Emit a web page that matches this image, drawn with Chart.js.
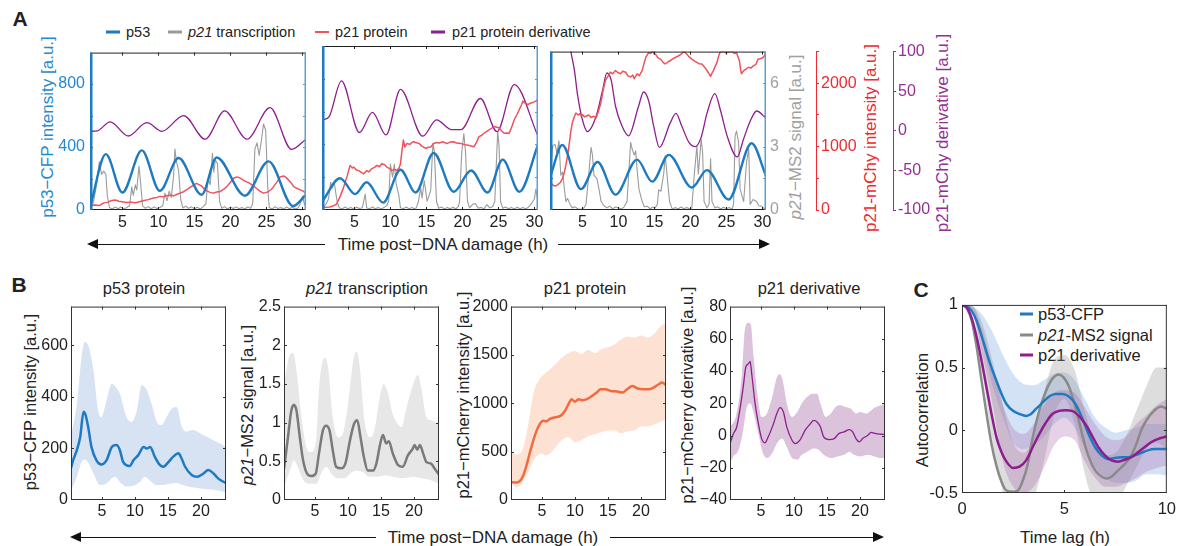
<!DOCTYPE html>
<html><head><meta charset="utf-8">
<script src="https://cdn.jsdelivr.net/npm/chart.js@4"></script>
<style>
body{margin:0;width:1178px;height:546px;background:#fff;position:relative;overflow:hidden;font-family:'Liberation Sans',Arial,Helvetica,sans-serif;color:#222;}
canvas{position:absolute;}
.t{position:absolute;white-space:nowrap;line-height:1;transform:translate(0,-50%);}
.c{position:absolute;white-space:nowrap;line-height:1;transform:translate(-50%,-50%);}
.r{position:absolute;white-space:nowrap;line-height:1;transform:translate(-50%,-50%) rotate(-90deg);}
.lg{position:absolute;height:3px;transform:translate(0,-50%);}
.hl{position:absolute;height:0;border-top:1.4px solid #111;}
.al{position:absolute;width:0;height:0;border-top:5px solid transparent;border-bottom:5px solid transparent;border-right:11px solid #111;}
.ar{position:absolute;width:0;height:0;border-top:5px solid transparent;border-bottom:5px solid transparent;border-left:11px solid #111;}
</style></head><body>
<div class="c" style="left:20px;top:18px;font-size:21px;font-weight:bold">A</div>
<div class="c" style="left:19px;top:284px;font-size:21px;font-weight:bold">B</div>
<div class="c" style="left:921px;top:289px;font-size:21px;font-weight:bold">C</div>

<div class="lg" style="left:106px;top:32px;width:14px;background:#1f7bc1"></div>
<div class="t" style="left:126px;top:32px;font-size:14.5px">p53</div>
<div class="lg" style="left:168px;top:32px;width:14px;background:#9b9b9b"></div>
<div class="t" style="left:188px;top:32px;font-size:14.5px"><i>p21</i> transcription</div>
<div class="lg" style="left:315px;top:32px;width:14px;height:2px;background:#f0525c"></div>
<div class="t" style="left:335px;top:32px;font-size:14.5px">p21 protein</div>
<div class="lg" style="left:431px;top:32px;width:14px;background:#8e1e8e"></div>
<div class="t" style="left:452px;top:32px;font-size:14.5px">p21 protein derivative</div>

<div class="r" style="left:47px;top:127px;font-size:17px;color:#2589d0">p53−CFP intensity [a.u.]</div>
<div class="r" style="left:795px;top:137px;font-size:17px;color:#a0a0a0"><i>p21</i>−MS2 signal [a.u.]</div>
<div class="r" style="left:870px;top:138px;font-size:17px;color:#ee2a30">p21-mChy intensity [a.u.]</div>
<div class="r" style="left:942px;top:133px;font-size:17px;color:#962f94">p21-mChy derivative [a.u.]</div>

<div class="al" style="left:87px;top:239px"></div>
<div class="hl" style="left:90px;top:244px;width:235px"></div>
<div class="c" style="left:443px;top:244px;font-size:17px">Time post−DNA damage (h)</div>
<div class="hl" style="left:558px;top:244px;width:203px"></div>
<div class="ar" style="left:759px;top:239px"></div>

<div class="c" style="left:144px;top:288px;font-size:16.5px">p53 protein</div>
<div class="c" style="left:367px;top:288px;font-size:16.5px"><i>p21</i> transcription</div>
<div class="c" style="left:585px;top:288px;font-size:16.5px">p21 protein</div>
<div class="c" style="left:809px;top:288px;font-size:16.5px">p21 derivative</div>
<div class="r" style="left:30px;top:402px;font-size:16.5px">p53−CFP intensity [a.u.]</div>
<div class="r" style="left:247px;top:405px;font-size:16.5px"><i>p21</i>−MS2 signal [a.u.]</div>
<div class="r" style="left:463px;top:395px;font-size:16.5px">p21−mCherry intensity [a.u.]</div>
<div class="r" style="left:687px;top:395px;font-size:16.5px">p21−mCherry derivative [a.u.]</div>

<div class="al" style="left:70px;top:532px"></div>
<div class="hl" style="left:73px;top:537px;width:303px"></div>
<div class="c" style="left:493px;top:537px;font-size:17px">Time post−DNA damage (h)</div>
<div class="hl" style="left:610px;top:537px;width:264px"></div>
<div class="ar" style="left:873px;top:532px"></div>

<div class="r" style="left:922px;top:410px;font-size:17px">Autocorrelation</div>
<div class="c" style="left:1065px;top:537px;font-size:17px">Time lag (h)</div>
<div class="lg" style="left:1020px;top:314px;width:13px;background:#1f7bc1"></div>
<div class="t" style="left:1038px;top:314px;font-size:16.5px">p53-CFP</div>
<div class="lg" style="left:1020px;top:335px;width:13px;background:#8a8a8a"></div>
<div class="t" style="left:1038px;top:335px;font-size:16.5px"><i>p21</i>-MS2 signal</div>
<div class="lg" style="left:1020px;top:355px;width:13px;background:#8e1e8e"></div>
<div class="t" style="left:1038px;top:355px;font-size:16.5px">p21 derivative</div>

<script>
// ---------------- tick values / labels ----------------
const A_X_TICKS = [5, 10, 15, 20, 25, 30];
const A_P53_TICKS = [0, 200, 400, 600, 800, 1000];
const A_P53_LABELS = [0, 400, 800];
const A_MS2_TICKS = [0, 1.5, 3, 4.5, 6, 7.5];
const A_MS2_LABELS = [0, 3, 6];
const A_MCHY_TICKS = [0, 500, 1000, 1500, 2000, 2500];
const A_MCHY_LABELS = [0, 1000, 2000];
const A_DER_TICKS = [-100, -50, 0, 50, 100];
const B_X_TICKS = [5, 10, 15, 20];
const B1_Y_TICKS = [0, 200, 400, 600];
const B2_Y_TICKS = [0, 0.5, 1, 1.5, 2, 2.5];
const B3_Y_TICKS = [0, 500, 1000, 1500, 2000];
const B4_Y_TICKS = [-40, -20, 0, 20, 40, 60, 80];
const C_X_TICKS = [0, 5, 10];
const C_Y_TICKS = [-0.5, 0, 0.5, 1];

// ---------------- panel A, cell 1 : [time h, value] ----------------
const a1P53 = [[0.6,35],[2.7,355],[5.0,111],[7.7,379],[10.2,122],[12.8,330],[16.0,97],[18.1,334],[22.0,91],[25.3,309],[28.7,25],[30.5,97]];
const a1Ms2 = [[0.6,0.05],[1.0,0.4],[1.4,1.2],[1.8,2.3],[2.1,1.7],[2.4,1.85],[2.7,1.7],[2.9,0.7],[3.2,0.12],[3.6,0.05],[4.0,0.15],[4.4,0.06],[4.8,0.14],[5.2,0.05],[5.6,0.12],[6.0,0.2],[6.3,1.1],[6.5,0.7],[6.8,1.2],[7.0,0.95],[7.3,2.1],[7.5,1.4],[7.8,0.2],[8.2,0.08],[8.6,0.16],[9.0,0.06],[9.4,0.15],[9.8,0.07],[10.2,0.12],[10.6,0.2],[10.9,0.8],[11.2,0.45],[11.5,0.9],[11.8,0.6],[12.1,1.6],[12.3,2.9],[12.5,2.3],[12.8,1.9],[13.1,0.5],[13.4,0.1],[13.8,0.18],[14.2,0.08],[14.6,0.15],[15.0,0.06],[15.4,0.13],[15.8,0.05],[16.2,0.15],[16.6,0.3],[16.9,1.5],[17.2,1.2],[17.5,2.7],[17.7,1.8],[17.9,2.4],[18.2,2.2],[18.5,0.4],[18.8,0.08],[19.2,0.16],[19.6,0.05],[20.0,0.14],[20.4,0.07],[20.8,0.15],[21.2,0.06],[21.6,0.12],[22.0,0.05],[22.4,0.14],[22.8,0.08],[23.1,0.3],[23.4,2.9],[23.7,3.2],[24.0,2.6],[24.3,3.3],[24.6,4.1],[24.9,3.8],[25.2,1.0],[25.4,0.12],[25.8,0.05],[26.2,0.16],[26.6,0.07],[27.0,0.12],[27.4,0.04],[27.8,0.15],[28.2,0.06],[28.6,0.13],[29.0,0.05],[29.4,0.1],[29.7,0.3],[30.0,0.65],[30.3,0.25],[30.5,0.4]];
const a1Mchy = [[0.6,77],[1.2,80],[1.8,70],[2.4,113],[3.0,125],[3.5,150],[4.0,160],[4.5,140],[5.0,130],[5.6,118],[6.2,125],[6.8,115],[7.4,130],[8.0,150],[8.6,165],[9.3,190],[9.8,200],[10.2,216],[10.7,210],[11.1,227],[11.6,235],[12.1,225],[12.6,250],[13.0,268],[13.5,290],[13.9,320],[14.4,360],[14.9,397],[15.3,423],[15.7,400],[16.0,381],[16.4,330],[16.7,304],[17.2,280],[17.6,268],[18.1,285],[18.6,294],[19.1,330],[19.5,371],[20.0,440],[20.4,500],[20.9,526],[21.3,510],[21.8,474],[22.2,450],[22.7,423],[23.1,390],[23.6,345],[24.1,300],[24.6,268],[25.0,280],[25.3,294],[25.7,330],[26.0,371],[26.5,450],[26.9,526],[27.4,541],[27.8,510],[28.1,474],[28.5,420],[28.8,371],[29.2,345],[29.7,320],[30.1,300],[30.5,268]];
const a1Deriv = [[0.6,0],[1.5,0.5],[3.3,12],[5.8,-6],[8.4,11],[10.5,0],[13.5,20],[16.5,-10],[19.2,26],[22.3,-10],[25.5,30],[28.5,-23],[30.5,-10]];

// ---------------- panel A, cell 2 ----------------
const a2P53 = [[0.6,56],[3.0,194],[5.1,97],[6.7,169],[9.0,45],[11.4,245],[13.5,107],[16.0,348],[18.8,111],[21.2,241],[23.5,107],[25.6,307],[27.9,111],[30.5,396]];
const a2Ms2 = [[0.6,0.05],[1.1,0.3],[1.4,0.5],[1.7,1.27],[1.9,1.0],[2.2,1.27],[2.45,0.7],[2.6,0.4],[2.9,0.1],[3.3,0.05],[3.7,0.14],[4.1,0.06],[4.5,0.12],[4.9,0.05],[5.3,0.13],[5.7,0.07],[6.1,0.1],[6.5,0.73],[6.7,0.1],[7.1,0.05],[7.5,0.14],[7.9,0.06],[8.3,0.12],[8.7,0.05],[9.1,0.11],[9.5,0.2],[9.75,0.4],[10.0,2.1],[10.3,1.5],[10.55,2.1],[10.8,1.2],[11.15,0.7],[11.4,0.1],[11.8,0.06],[12.2,0.14],[12.6,0.05],[13.0,0.12],[13.3,0.06],[13.6,0.1],[13.9,0.4],[14.2,1.0],[14.4,0.55],[14.7,1.35],[15.1,0.4],[15.6,0.9],[15.9,3.05],[16.1,2.7],[16.4,0.4],[16.7,0.08],[17.1,0.14],[17.5,0.05],[17.9,0.12],[18.3,0.06],[18.7,0.13],[19.1,0.05],[19.4,0.15],[19.6,0.35],[19.9,2.6],[20.2,3.5],[20.45,2.6],[20.7,0.4],[21.0,0.1],[21.4,0.25],[21.8,0.3],[22.2,0.08],[22.6,0.12],[23.0,0.05],[23.4,0.25],[23.8,0.1],[24.2,0.15],[24.5,0.4],[24.9,3.6],[25.1,2.9],[25.3,0.4],[25.6,0.08],[26.0,0.14],[26.4,0.06],[26.8,0.12],[27.2,0.05],[27.6,0.13],[28.0,0.06],[28.4,0.12],[28.8,0.05],[29.2,0.14],[29.6,0.3],[30.0,0.5],[30.2,0.96],[30.5,0.4]];
const a2Mchy = [[0.6,36],[1.0,40],[1.6,46],[2.0,60],[2.5,88],[3.0,200],[3.5,345],[4.0,520],[4.4,680],[4.7,640],[4.9,655],[5.3,610],[5.6,600],[6.0,570],[6.3,551],[6.7,600],[7.0,580],[7.4,630],[7.8,650],[8.1,680],[8.5,660],[8.8,706],[9.2,690],[9.5,655],[9.9,630],[10.2,603],[10.6,620],[10.9,603],[11.2,640],[11.4,706],[11.6,900],[11.8,1067],[12.0,960],[12.3,1015],[12.7,1000],[13.0,1030],[13.2,1041],[13.6,1025],[14.0,1015],[14.4,970],[14.9,938],[15.2,955],[15.6,960],[16.0,1015],[16.4,1030],[16.8,1020],[17.2,1041],[17.6,1025],[17.9,1015],[18.3,1035],[18.8,1041],[19.2,1020],[19.8,1015],[20.3,995],[20.7,990],[21.2,975],[21.6,964],[22.0,1040],[22.3,1119],[22.7,1140],[23.0,1170],[23.4,1200],[23.7,1220],[24.1,1250],[24.4,1273],[24.8,1260],[25.1,1250],[25.5,1200],[25.8,1170],[26.2,1175],[26.5,1170],[26.9,1280],[27.2,1376],[27.6,1460],[27.9,1531],[28.2,1600],[28.4,1660],[28.7,1630],[29.1,1608],[29.5,1630],[29.8,1640],[30.2,1660],[30.5,1686]];
const a2Deriv = [[0.6,10],[1.5,14],[3.2,57.5],[5.7,-5.5],[7.5,19],[9.4,-8.5],[11.4,47],[14.5,-10],[16.4,10],[18.5,-2],[19.8,-2],[22.5,36],[24.8,-4.3],[27.2,53],[30.5,-10]];

// ---------------- panel A, cell 3 ----------------
const a3P53 = [[0.6,221],[2.2,410],[4.8,132],[7.1,303],[9.6,97],[12.6,318],[14.7,179],[17.0,348],[20.2,142],[22.3,252],[25.3,66],[28.5,421],[30.5,216]];
const a3Ms2 = [[0.6,1.65],[0.87,3.05],[1.2,3.1],[1.47,2.7],[1.74,3.28],[2.0,1.65],[2.25,1.8],[2.5,1.0],[2.7,0.4],[2.94,0.55],[3.3,0.26],[3.6,0.1],[4.0,0.15],[4.4,0.05],[4.8,0.03],[5.2,0.1],[5.5,0.26],[5.8,1.35],[6.2,2.97],[6.4,2.6],[6.6,1.65],[7.0,1.5],[7.3,1.0],[7.6,0.4],[8.0,0.2],[8.4,0.1],[8.8,0.18],[9.2,0.06],[9.6,0.14],[10.0,0.1],[10.4,0.05],[10.8,0.15],[11.2,0.4],[11.7,3.2],[11.9,2.9],[12.2,2.6],[12.4,2.8],[12.6,1.9],[12.85,1.0],[13.3,0.4],[13.6,0.15],[14.0,0.18],[14.4,0.06],[14.8,0.14],[15.1,0.1],[15.4,0.26],[15.6,0.96],[15.9,0.88],[16.3,1.73],[16.5,2.58],[16.8,1.5],[17.1,0.4],[17.5,0.03],[17.9,0.12],[18.3,0.05],[18.7,0.14],[19.1,0.06],[19.5,0.12],[19.9,0.05],[20.2,0.1],[20.5,1.5],[20.9,3.05],[21.1,1.7],[21.5,3.35],[21.7,2.7],[21.9,0.4],[22.3,0.1],[22.6,0.3],[22.8,2.43],[23.0,0.4],[23.4,0.1],[23.8,0.15],[24.2,0.05],[24.6,0.13],[25.0,0.06],[25.4,0.12],[25.8,0.03],[26.0,0.3],[26.2,3.5],[26.4,3.74],[26.7,3.2],[26.9,1.0],[27.4,0.4],[27.8,2.27],[28.1,2.9],[28.3,0.26],[28.7,0.5],[29.2,0.4],[29.5,0.2],[29.9,0.18],[30.2,0.08],[30.5,0.03]];
const a3Mchy = [[0.6,448],[0.8,400],[1.0,387],[1.3,380],[1.6,400],[1.9,430],[2.25,500],[2.5,600],[2.7,706],[3.0,900],[3.2,1067],[3.4,1250],[3.6,1376],[3.9,1480],[4.1,1531],[4.4,1500],[4.6,1520],[4.8,1490],[5.0,1505],[5.3,1470],[5.5,1480],[5.9,1500],[6.2,1460],[6.6,1480],[6.9,1454],[7.2,1550],[7.55,1686],[7.9,1900],[8.2,2047],[8.5,2100],[8.9,2175],[9.2,2150],[9.6,2201],[9.9,2170],[10.3,2150],[10.6,2190],[11.0,2175],[11.3,2120],[11.7,2098],[12.0,2130],[12.2,2072],[12.6,2150],[12.9,2120],[13.3,2201],[13.6,2330],[13.8,2407],[14.2,2485],[14.5,2470],[14.7,2510],[15.0,2460],[15.15,2459],[15.5,2400],[15.85,2381],[16.2,2330],[16.5,2304],[16.9,2340],[17.2,2356],[17.6,2390],[17.9,2407],[18.3,2430],[18.6,2450],[18.9,2480],[19.1,2510],[19.5,2460],[19.8,2420],[20.2,2381],[20.6,2350],[20.9,2330],[21.2,2310],[21.6,2304],[22.0,2250],[22.3,2201],[22.6,2150],[22.8,2108],[23.0,2160],[23.2,2200],[23.5,2280],[23.7,2330],[23.9,2420],[24.1,2485],[24.4,2500],[24.6,2510],[24.9,2480],[25.1,2485],[25.5,2500],[25.8,2510],[26.1,2470],[26.4,2485],[26.6,2420],[26.8,2356],[27.0,2200],[27.1,2150],[27.4,2200],[27.8,2230],[28.1,2253],[28.4,2240],[28.7,2270],[29.1,2300],[29.4,2381],[29.8,2390],[30.1,2407],[30.3,2440],[30.5,2485]];
const a3Deriv = [[1.5,260],[2.6,150],[3.4,100],[3.9,76],[4.3,47],[5.0,14],[5.7,-1],[6.9,18],[7.8,51],[8.4,73],[9.0,64],[9.6,31],[10.5,6],[11.4,-6.4],[12.8,31],[13.5,49],[14.2,38],[14.9,6],[15.7,-21],[17.2,10],[18.0,22],[18.8,6],[19.8,-14.6],[20.7,-20],[21.5,-8],[22.3,22],[23.4,47],[24.2,25],[25.1,-6.4],[26.5,-33],[27.4,-10],[28.3,12],[29.2,25],[30.5,16]];

// ---------------- panel B : mean and band edges ----------------
const bP53Mean = [[0.3,123],[0.7,160],[1.2,194],[1.7,245],[2.2,342],[2.5,330],[2.9,284],[3.4,206],[4.2,152],[4.9,138],[5.7,155],[6.5,206],[7.2,213],[7.7,194],[8.2,148],[9.2,132],[9.8,155],[10.5,174],[11.3,206],[11.8,200],[12.3,206],[13.0,168],[13.8,135],[14.3,129],[15.1,148],[15.8,168],[16.6,181],[17.0,165],[17.6,129],[18.6,97],[19.4,90],[20.4,103],[21.1,116],[21.9,103],[22.6,84],[23.8,65]];
const bP53Upper = [[0.3,245],[1.2,374],[1.9,555],[2.4,613],[2.9,600],[3.7,503],[4.4,348],[4.9,322],[5.7,387],[6.5,451],[7.0,440],[7.7,413],[8.7,322],[9.5,303],[10.3,348],[11.0,445],[11.8,426],[12.5,374],[13.3,303],[14.0,290],[14.8,322],[15.6,355],[16.3,361],[17.1,284],[17.8,265],[18.8,271],[19.9,258],[20.9,245],[21.9,232],[22.9,219],[23.8,205]];
const bP53Lower = [[0.3,39],[1.2,90],[1.9,148],[2.4,157],[2.9,145],[3.7,103],[4.7,58],[5.7,64],[6.5,84],[7.0,90],[7.7,70],[8.7,52],[9.7,55],[10.8,71],[11.5,90],[12.3,75],[13.3,58],[14.3,58],[15.3,64],[16.3,66],[17.3,58],[18.6,49],[19.9,45],[21.4,41],[22.5,38],[23.8,30]];
const bMs2Mean = [[0.3,0.4],[0.9,0.81],[1.4,1.15],[1.8,1.23],[2.2,1.15],[2.7,0.81],[3.2,0.51],[3.8,0.34],[4.4,0.31],[5.1,0.34],[5.6,0.6],[6.2,0.9],[6.7,0.96],[7.2,0.9],[7.7,0.64],[8.2,0.43],[9.0,0.41],[9.6,0.47],[10.3,0.77],[10.9,0.98],[11.4,1.03],[11.9,0.81],[12.4,0.56],[13.0,0.38],[13.8,0.38],[14.3,0.47],[14.9,0.73],[15.3,0.84],[15.8,0.73],[16.2,0.76],[16.8,0.6],[17.6,0.45],[18.3,0.43],[19.1,0.58],[19.8,0.66],[20.1,0.71],[20.5,0.65],[20.9,0.71],[21.4,0.6],[21.9,0.49],[22.6,0.47],[23.1,0.41],[23.8,0.33]];
const bMs2Upper = [[0.3,1.5],[1.2,1.88],[1.7,1.9],[2.2,1.67],[2.9,1.11],[3.7,0.68],[4.4,0.62],[5.1,0.73],[5.7,1.54],[6.5,1.84],[7.0,1.71],[7.7,1.07],[8.5,0.81],[9.2,0.85],[10.0,1.24],[10.8,1.8],[11.3,1.92],[11.8,1.71],[12.5,1.03],[13.3,0.81],[14.0,0.9],[14.8,1.32],[15.4,1.5],[16.1,1.37],[16.8,1.11],[17.6,0.98],[18.1,0.94],[18.9,1.2],[19.9,1.5],[20.6,1.62],[21.1,1.45],[21.9,1.07],[22.6,1.03],[23.8,0.98]];
const bMs2Lower = [[0.3,0.17],[1.2,0.38],[1.8,0.51],[2.4,0.43],[3.2,0.26],[4.2,0.21],[5.2,0.21],[5.9,0.34],[6.7,0.43],[7.5,0.34],[8.5,0.28],[9.5,0.28],[10.3,0.34],[11.3,0.38],[12.3,0.36],[13.3,0.3],[14.5,0.3],[15.6,0.32],[16.8,0.3],[18.3,0.28],[19.9,0.3],[21.1,0.28],[22.4,0.26],[23.8,0.21]];
const bMchyMean = [[0.3,185],[1.1,180],[1.7,200],[2.2,260],[2.7,370],[3.2,500],[3.7,620],[4.2,720],[4.7,790],[5.2,820],[5.7,815],[6.2,840],[7.0,855],[7.8,870],[8.5,923],[9.0,990],[9.5,1043],[10.0,1015],[10.5,1043],[11.1,1032],[11.8,1043],[12.6,1077],[13.3,1111],[13.9,1145],[14.6,1145],[15.4,1128],[16.4,1121],[17.2,1111],[17.9,1145],[18.7,1180],[19.4,1156],[20.2,1145],[21.2,1145],[21.9,1162],[22.7,1197],[23.2,1214],[23.8,1190]];
const bMchyUpper = [[0.3,520],[1.0,470],[1.7,480],[2.2,550],[2.7,700],[3.2,900],[3.7,1100],[4.2,1200],[5,1280],[6,1340],[7,1400],[8,1470],[9,1520],[10,1540],[11,1510],[12,1550],[13,1520],[14,1560],[15,1580],[16,1610],[17,1660],[18,1690],[19,1680],[20,1700],[21,1680],[22,1720],[23,1800],[23.8,1830]];
const bMchyLower = [[0.3,180],[1,130],[1.7,150],[2.5,230],[3,300],[3.5,380],[4,440],[4.5,470],[5,480],[5.5,460],[6,470],[6.5,500],[7,540],[8,620],[9,650],[10,600],[11,620],[12,660],[13,680],[14,700],[15,720],[16,720],[17,690],[18,710],[19,720],[20,760],[21,760],[22,780],[23,810],[23.8,830]];
const bDerMean = [[0.3,-5],[0.8,1],[1.3,5],[1.8,16],[2.3,30],[2.7,42.5],[3.1,44.5],[3.35,46],[3.6,38],[4.1,20],[4.6,7.4],[5.1,-1.9],[5.6,-4.5],[6.1,-0.8],[6.9,7.4],[7.4,13.6],[7.9,17.3],[8.4,14.6],[8.9,5.4],[9.7,-2.9],[10.2,-5],[10.9,-2.9],[11.7,3.3],[12.5,7.4],[13.0,9.4],[13.5,8.4],[14.0,5.4],[14.5,-0.8],[15.3,-2.5],[16.1,-1.9],[16.8,1.2],[17.6,2.3],[18.4,3.7],[18.9,2.3],[19.4,-1.9],[19.9,-3.9],[20.4,-1.9],[21.2,0.2],[21.7,1.9],[22.4,1.2],[23.2,0.8],[23.8,0.6]];
const bDerUpper = [[0.3,5],[1.3,13.6],[2.1,38],[2.6,67],[3.1,70],[3.45,69],[3.9,48.6],[4.5,24],[5.1,11.5],[5.9,13.6],[6.7,24],[7.4,36],[7.9,38],[8.4,32],[8.9,20],[9.7,11.5],[10.5,14.6],[11.2,20],[12.0,24],[12.8,26],[13.5,26],[14.0,20],[14.8,11.5],[15.6,13.6],[16.3,17.7],[17.1,18.8],[17.8,17.7],[18.6,16.7],[19.4,13.6],[20.1,14.6],[20.9,13.6],[21.7,15.6],[22.4,17.7],[23.2,18.8],[23.8,20]];
const bDerLower = [[0.3,-17],[0.8,-13],[1.6,-9],[2.3,3.3],[2.8,16.7],[3.35,20],[3.9,13.6],[4.6,1.2],[5.3,-11],[5.9,-14],[6.7,-11],[7.4,-5],[8.2,-1.9],[8.9,-7],[9.7,-14],[10.5,-15],[11.2,-12],[12.0,-10],[13.0,-8],[13.8,-9],[14.5,-12],[15.6,-14],[16.6,-13],[17.6,-12],[18.4,-10],[19.1,-12],[20.1,-13],[21.2,-12],[22.2,-13],[23.2,-14],[23.8,-14]];

// ---------------- panel C : [lag h, autocorrelation] ----------------
const cP53 = [[0,1],[0.24,0.99],[0.48,0.95],[0.72,0.87],[0.96,0.75],[1.2,0.62],[1.44,0.5],[1.69,0.39],[1.93,0.29],[2.17,0.21],[2.49,0.155],[2.81,0.13],[3.13,0.115],[3.37,0.13],[3.61,0.17],[3.93,0.22],[4.25,0.27],[4.57,0.29],[4.9,0.29],[5.22,0.27],[5.54,0.21],[5.86,0.1],[6.18,-0.03],[6.5,-0.135],[6.82,-0.2],[7.14,-0.23],[7.46,-0.22],[7.78,-0.215],[8.1,-0.215],[8.43,-0.2],[8.75,-0.18],[9.07,-0.16],[9.39,-0.15],[9.71,-0.15],[10,-0.15]];
const cP53Upper = [[0,1],[0.5,0.99],[1,0.92],[1.5,0.78],[2,0.6],[2.5,0.45],[3,0.37],[3.5,0.36],[4,0.4],[4.5,0.45],[5,0.46],[5.5,0.4],[6,0.25],[6.5,0.1],[7,0.02],[7.5,-0.02],[8,0],[8.5,0.02],[9,0.05],[9.5,0.05],[10,0.05]];
const cP53Lower = [[0,1],[0.5,0.97],[1,0.7],[1.5,0.35],[2,0.1],[2.5,-0.1],[3,-0.15],[3.5,-0.12],[4,-0.05],[4.5,0.05],[5,0.1],[5.5,0.02],[6,-0.15],[6.5,-0.3],[7,-0.38],[7.5,-0.42],[8,-0.42],[8.5,-0.4],[9,-0.35],[9.5,-0.35],[10,-0.36]];
const cMs2 = [[0,1],[0.24,0.97],[0.48,0.87],[0.72,0.66],[0.96,0.39],[1.2,0.13],[1.44,-0.11],[1.69,-0.29],[1.93,-0.41],[2.17,-0.48],[2.49,-0.49],[2.73,-0.48],[2.97,-0.4],[3.21,-0.27],[3.45,-0.06],[3.77,0.155],[4.09,0.31],[4.41,0.41],[4.73,0.445],[4.97,0.42],[5.22,0.35],[5.46,0.23],[5.7,0.08],[5.94,-0.08],[6.18,-0.21],[6.5,-0.32],[6.82,-0.37],[7.06,-0.385],[7.3,-0.37],[7.62,-0.32],[7.94,-0.27],[8.27,-0.2],[8.51,-0.11],[8.75,0.0],[8.99,0.076],[9.23,0.13],[9.47,0.17],[9.71,0.19],[10,0.17]];
const cMs2Upper = [[0,1],[0.5,0.99],[1,0.85],[1.5,0.55],[2,0.2],[2.5,-0.1],[3,-0.18],[3.5,-0.05],[4,0.3],[4.5,0.56],[5,0.6],[5.5,0.48],[6,0.15],[6.5,-0.1],[7,-0.2],[7.5,-0.18],[8,-0.05],[8.5,0.15],[9,0.35],[9.5,0.5],[10,0.5]];
const cMs2Lower = [[0,1],[0.5,0.95],[1,0.45],[1.5,-0.1],[2,-0.5],[2.5,-0.75],[3,-0.75],[3.5,-0.55],[4,-0.25],[4.5,0.12],[5,0.25],[5.5,0.05],[6,-0.35],[6.5,-0.6],[7,-0.65],[7.5,-0.6],[8,-0.45],[8.5,-0.3],[9,-0.15],[9.5,-0.1],[10,-0.15]];
const cDer = [[0,1],[0.24,0.98],[0.48,0.89],[0.72,0.74],[0.96,0.55],[1.2,0.34],[1.44,0.13],[1.69,-0.06],[1.93,-0.175],[2.17,-0.25],[2.49,-0.3],[2.81,-0.29],[3.13,-0.24],[3.45,-0.135],[3.77,-0.03],[4.09,0.06],[4.41,0.13],[4.73,0.155],[5.06,0.16],[5.38,0.155],[5.7,0.115],[6.02,0.05],[6.34,-0.04],[6.66,-0.135],[6.98,-0.2],[7.3,-0.24],[7.62,-0.25],[7.94,-0.235],[8.27,-0.215],[8.59,-0.175],[8.91,-0.135],[9.23,-0.095],[9.55,-0.07],[10,-0.05]];
const cDerUpper = [[0,1],[0.5,0.99],[1,0.8],[1.5,0.5],[2,0.2],[2.5,0.02],[3,-0.03],[3.5,0.05],[4,0.2],[4.5,0.3],[5,0.32],[5.5,0.3],[6,0.18],[6.5,0.05],[7,-0.05],[7.5,-0.08],[8,-0.05],[8.5,0.05],[9,0.12],[9.5,0.2],[10,0.25]];
const cDerLower = [[0,1],[0.5,0.95],[1,0.6],[1.5,0.2],[2,-0.25],[2.5,-0.45],[3,-0.5],[3.5,-0.45],[4,-0.3],[4.5,-0.12],[5,-0.05],[5.5,-0.08],[6,-0.25],[6.5,-0.38],[7,-0.45],[7.5,-0.45],[8,-0.42],[8.5,-0.38],[9,-0.33],[9.5,-0.3],[10,-0.28]];

// ---------------- styling / helpers ----------------
Chart.defaults.font.family = "'Liberation Sans', Arial, Helvetica, sans-serif";
Chart.defaults.color = '#222';

const BLUE = '#1f7bc1', GRAY = '#9b9b9b', RED = '#f0525c', PURP = '#8e1e8e';

const framePlugin = {
  id: 'frame',
  afterDatasetsDraw(chart, args, o) {
    if (!o || !o.on) return;
    const {ctx, chartArea: a, scales} = chart;
    const xs = scales.x, ys = scales.y;
    const L = a.left, R = a.right, T = a.top, B = a.bottom;
    const seg = (x1, y1, x2, y2, c, w) => {
      ctx.beginPath(); ctx.strokeStyle = c; ctx.lineWidth = w;
      ctx.moveTo(x1, y1); ctx.lineTo(x2, y2); ctx.stroke();
    };
    ctx.save();
    const tl = o.tick || 3;
    xs.ticks.forEach(t => {
      const p = Math.round(xs.getPixelForValue(t.value)) + 0.5;
      if (p <= L + 1.5 || p >= R - 1.5) return;
      seg(p, B, p, B - tl, o.bottom, 1); seg(p, T, p, T + tl, o.top, 1);
    });
    ys.ticks.forEach(t => {
      const p = Math.round(ys.getPixelForValue(t.value)) + 0.5;
      if (p <= T + 1.5 || p >= B - 1.5) return;
      seg(L, p, L + tl, p, o.left, 1); seg(R, p, R - tl, p, o.right, 1);
    });
    seg(L, T + 0.5, R, T + 0.5, o.top, o.topW || 1);
    seg(L, B - 0.5, R, B - 0.5, o.bottom, o.bottomW || 1);
    const lw = o.leftW || 1, rw = o.rightW || 1;
    seg(L + lw / 2, T, L + lw / 2, B, o.left, lw);
    seg(R - rw / 2, T, R - rw / 2, B, o.right, rw);
    ctx.restore();
  }
};
Chart.register(framePlugin);

function axis(min, max, ticks, opt) {
  opt = opt || {};
  const labels = opt.labels || ticks;
  const fmt = opt.fmt || (v => String(v));
  const ax = {
    type: 'linear', min, max,
    display: opt.display !== false,
    position: opt.position,
    weight: opt.weight || 0,
    afterBuildTicks: s => { s.ticks = ticks.map(v => ({value: v})); },
    grid: opt.grid || {display: false, drawTicks: false},
    border: opt.border || {display: false},
    ticks: {
      display: opt.showLabels !== false,
      autoSkip: false, maxRotation: 0, minRotation: 0,
      font: {size: opt.size || 16}, color: opt.color || '#222', padding: opt.pad == null ? 3 : opt.pad,
      callback: v => labels.some(l => Math.abs(l - v) < 1e-9) ? fmt(v) : ''
    }
  };
  if (opt.fit != null) {
    if (opt.horizontal) ax.afterFit = s => { s.height = opt.fit; };
    else ax.afterFit = s => { s.width = opt.fit; };
  }
  return ax;
}

function mk(box, m, datasets, scales, frame) {
  const c = document.createElement('canvas');
  const W = box.w + m.l + m.r, H = box.h + m.t + m.b;
  c.width = W; c.height = H;
  c.style.width = W + 'px'; c.style.height = H + 'px';
  c.style.left = (box.x - m.l) + 'px'; c.style.top = (box.y - m.t) + 'px';
  document.body.appendChild(c);
  return new Chart(c, {
    type: 'line',
    data: {datasets},
    options: {
      responsive: false, animation: false, devicePixelRatio: 1,
      layout: {padding: {top: m.t, right: m.pr == null ? m.r : m.pr, left: 0, bottom: 0}},
      plugins: {legend: {display: false}, tooltip: {enabled: false}, frame: Object.assign({on: true}, frame)},
      scales
    }
  });
}

function ln(data, color, width, yAxisID, smooth, order) {
  return {data, borderColor: color, borderWidth: width, pointRadius: 0, fill: false,
    yAxisID: yAxisID || 'y', tension: 0, cubicInterpolationMode: smooth ? 'monotone' : 'default',
    order: order || 0, borderJoinStyle: 'round'};
}
function band(upper, lower, color, order) {
  return [
    {data: upper, borderWidth: 0, borderColor: 'rgba(0,0,0,0)', pointRadius: 0, backgroundColor: color, fill: '+1', cubicInterpolationMode: 'monotone', order: order},
    {data: lower, borderWidth: 0, borderColor: 'rgba(0,0,0,0)', pointRadius: 0, fill: false, cubicInterpolationMode: 'monotone', order: order}
  ];
}

// ---------------- panel A ----------------
function panelA(idx, x, p53, ms2, mchy, der) {
  const left = idx === 0, right = idx === 2;
  const m = {l: left ? 80 : 4, r: right ? 172 : 12, t: 8, b: 28, pr: right ? 0 : 12};
  const box = {x, y: 46, w: 216, h: 164};
  const scales = {
    x: Object.assign(axis(0.5, 30.5, A_X_TICKS, {fit: m.b, horizontal: true, pad: 3}), {position: 'bottom'}),
    y: Object.assign(axis(0, 1000, A_P53_TICKS, {labels: A_P53_LABELS, showLabels: left, color: '#2589d0', pad: 5, fit: m.l}), {position: 'left'}),
    yG: axis(0, 7.5, A_MS2_TICKS, {labels: A_MS2_LABELS, display: right, position: 'right', weight: 1, color: '#a0a0a0', pad: 4, fit: right ? 50 : null}),
    yR: axis(0, 2500, A_MCHY_TICKS, {labels: A_MCHY_LABELS, display: right, position: 'right', weight: 2, color: '#ee2a30', pad: 2, fit: right ? 77 : null,
      border: {display: true, color: '#ee2a30', width: 1},
      grid: {display: true, drawOnChartArea: false, drawTicks: true, tickLength: 3, color: '#ee2a30'}}),
    yP: axis(-100, 100, A_DER_TICKS, {display: right, position: 'right', weight: 3, color: '#962f94', pad: 2, fit: right ? 45 : null,
      border: {display: true, color: '#962f94', width: 1},
      grid: {display: true, drawOnChartArea: false, drawTicks: true, tickLength: 3, color: '#962f94'}})
  };
  const ds = [
    ln(p53, BLUE, 2.4, 'y', true, 0),
    ln(mchy, RED, 1.5, 'yR', false, 1),
    ln(der, PURP, 1.3, 'yP', true, 2),
    ln(ms2, GRAY, 1.1, 'yG', false, 3)
  ];
  mk(box, m, ds, scales, {top: '#222', bottom: '#222', left: BLUE, right: '#5a9fd6', leftW: 2.5, rightW: 1.5, tick: 3});
}
panelA(0, 90, a1P53, a1Ms2, a1Mchy, a1Deriv);
panelA(1, 322, a2P53, a2Ms2, a2Mchy, a2Deriv);
panelA(2, 550, a3P53, a3Ms2, a3Mchy, a3Deriv);

// ---------------- panel B ----------------
function panelB(x, ymin, ymax, yticks, fmt, mean, upper, lower, lineColor, lineW, bandColor) {
  const m = {l: 60, r: 12, t: 12, b: 28};
  const box = {x, y: 306, w: 155, h: 194};
  const scales = {
    x: Object.assign(axis(0.3, 23.8, B_X_TICKS, {fit: m.b, horizontal: true, pad: 2}), {position: 'bottom'}),
    y: Object.assign(axis(ymin, ymax, yticks, {fit: m.l, pad: 3, fmt}), {position: 'left'})
  };
  const ds = [ln(mean, lineColor, lineW, 'y', true, 0)].concat(band(upper, lower, bandColor, 5));
  mk(box, m, ds, scales, {top: '#333', bottom: '#333', left: '#333', right: '#333', tick: 3});
}
const minusFmt = v => v < 0 ? '\u2212' + Math.abs(v) : String(v);
panelB(71, 0, 750, B1_Y_TICKS, null, bP53Mean, bP53Upper, bP53Lower, BLUE, 2.5, '#d7e2f2');
panelB(284, 0, 2.5, B2_Y_TICKS, null, bMs2Mean, bMs2Upper, bMs2Lower, '#7a7a7a', 2.5, '#e7e7e7');
panelB(511, 0, 2000, B3_Y_TICKS, null, bMchyMean, bMchyUpper, bMchyLower, '#f26a3d', 2.5, '#fde1d3');
panelB(730, -40, 80, B4_Y_TICKS, minusFmt, bDerMean, bDerUpper, bDerLower, PURP, 1.3, '#dcc3dc');

// ---------------- panel C ----------------
(function () {
  const m = {l: 45, r: 14, t: 12, b: 28};
  const box = {x: 962, y: 303, w: 207, h: 190};
  const scales = {
    x: Object.assign(axis(0, 10, C_X_TICKS, {fit: m.b, horizontal: true, pad: 7, size: 16.5}), {position: 'bottom'}),
    y: Object.assign(axis(-0.5, 1, C_Y_TICKS, {fit: m.l, pad: 4, size: 16.5}), {position: 'left'})
  };
  const ds = [
    ln(cDer, PURP, 2.5, 'y', true, 0),
    ln(cP53, BLUE, 2.5, 'y', true, 1),
    ln(cMs2, '#8a8a8a', 2.5, 'y', true, 2)
  ].concat(band(cDerUpper, cDerLower, 'rgba(165,95,165,0.28)', 5))
   .concat(band(cMs2Upper, cMs2Lower, 'rgba(150,150,150,0.32)', 6))
   .concat(band(cP53Upper, cP53Lower, 'rgba(150,185,230,0.42)', 7));
  mk(box, m, ds, scales, {top: '#333', bottom: '#333', left: '#333', right: '#333', tick: 3});
})();
</script>
</body></html>
